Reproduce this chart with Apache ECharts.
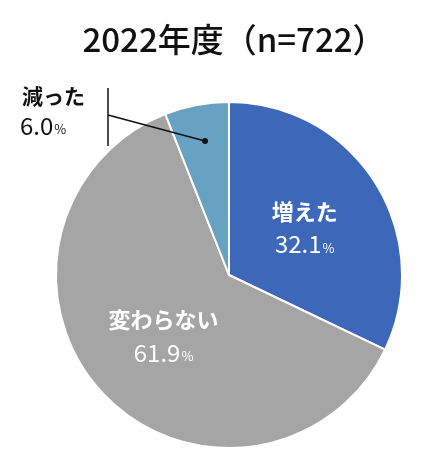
<!DOCTYPE html>
<html><head><meta charset="utf-8">
<script src="https://cdn.jsdelivr.net/npm/echarts@6/dist/echarts.min.js"></script>
<style>html,body{margin:0;background:#fff}#c{width:435px;height:468px}</style>
</head><body><div id="c"></div>
<script>
const categories = ['増えた', '変わらない', '減った'];
const values = [32.1, 61.9, 6.0];
const colors = ['#3d67b8', '#a5a5a5', '#68a2c3'];
const titleText = '2022年度（n=722）';
const F = '"Noto Sans CJK JP", sans-serif';
const chart = echarts.init(document.getElementById('c'));
chart.setOption({
  animation: false,
  title: { text: titleText, left: 229, top: 18, textAlign: 'center',
    textStyle: { fontFamily: F, fontSize: 33, fontWeight: 500, color: '#111' } },
  series: [{
    type: 'pie', center: [229, 275], radius: 173, startAngle: 90, clockwise: true,
    itemStyle: { borderColor: '#fff', borderWidth: 2 },
    label: { position: 'inside', fontFamily: F, color: '#fff', lineHeight: 32,
      formatter: p => '{n|' + p.name + '}\n{v|' + p.value.toFixed(1) + '}{p|%}',
      rich: { n: { fontFamily: F, fontSize: 22, fontWeight: 'bold', color: '#fff', lineHeight: 34 },
              v: { fontFamily: F, fontSize: 24, color: '#fff', lineHeight: 32 },
              p: { fontFamily: F, fontSize: 13, color: '#fff', lineHeight: 32, padding: [7,0,0,1] } } },
    labelLine: { show: false },
    data: categories.map((c, i) => ({ name: c, value: values[i], itemStyle: { color: colors[i] },
      label: i === 2 ? { show: false } : {} }))
  }],
  graphic: [
    { type: 'text', z: 100, left: 22, top: 86, style: { text: categories[2], font: 'bold 21px ' + F, fill: '#111' } },
    { type: 'text', z: 100, left: 20, top: 114, style: { rich: { v: { fontFamily: F, fontSize: 24, fill: '#111' }, p: { fontFamily: F, fontSize: 13, fill: '#111', padding: [7,0,0,1] } }, text: '{v|' + values[2].toFixed(1) + '}{p|%}' } },
    { type: 'line', z: 100, shape: { x1: 108, y1: 88, x2: 108, y2: 146 }, style: { stroke: '#111', lineWidth: 1.5 } },
    { type: 'line', z: 100, shape: { x1: 108, y1: 115, x2: 205, y2: 141 }, style: { stroke: '#111', lineWidth: 1.5 } },
    { type: 'circle', z: 100, shape: { cx: 205, cy: 141, r: 3 }, style: { fill: '#111' } }
  ]
});
</script></body></html>
